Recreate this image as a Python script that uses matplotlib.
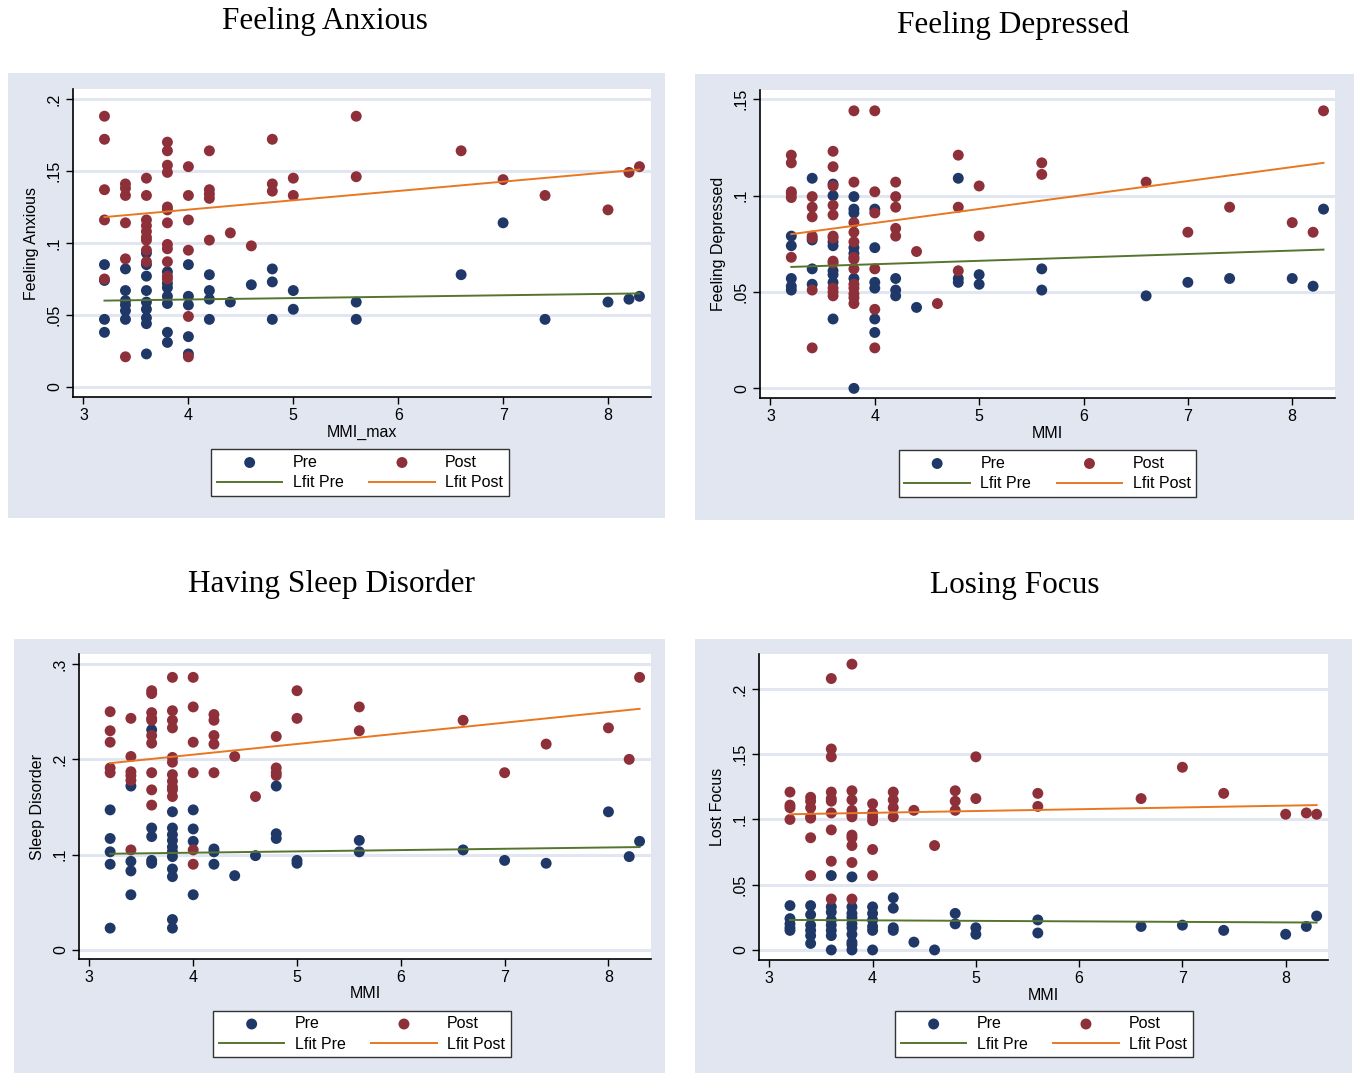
import numpy as np
import matplotlib
matplotlib.use("Agg")
import matplotlib.pyplot as plt
from matplotlib.patches import Rectangle

plt.rcParams['font.family'] = ['Liberation Sans', 'DejaVu Sans']

W, H = 1354, 1074

# ---- data (MMI value -> list of scores) ----
anx_pre = {3.2: [0.085, 0.074, 0.047, 0.038], 3.4: [0.082, 0.067, 0.060, 0.057, 0.053, 0.047],
           3.6: [0.093, 0.085, 0.077, 0.067, 0.059, 0.054, 0.048, 0.044, 0.023],
           3.8: [0.080, 0.072, 0.069, 0.063, 0.058, 0.038, 0.031],
           4.0: [0.085, 0.063, 0.057, 0.035, 0.023], 4.2: [0.078, 0.067, 0.061, 0.047],
           4.4: [0.059], 4.6: [0.071], 4.8: [0.082, 0.073, 0.047], 5.0: [0.067, 0.054],
           5.6: [0.059, 0.047], 6.6: [0.078], 7.0: [0.114], 7.4: [0.047], 8.0: [0.059],
           8.2: [0.061], 8.3: [0.063]}
anx_post = {3.2: [0.188, 0.172, 0.137, 0.116, 0.075], 3.4: [0.141, 0.138, 0.133, 0.114, 0.089, 0.021],
            3.6: [0.145, 0.133, 0.116, 0.112, 0.108, 0.104, 0.102, 0.095, 0.087],
            3.8: [0.170, 0.164, 0.154, 0.149, 0.125, 0.123, 0.114, 0.099, 0.096, 0.087, 0.077, 0.075],
            4.0: [0.153, 0.133, 0.116, 0.095, 0.049, 0.021], 4.2: [0.164, 0.137, 0.134, 0.131, 0.102],
            4.4: [0.107], 4.6: [0.098], 4.8: [0.172, 0.141, 0.136], 5.0: [0.145, 0.133],
            5.6: [0.188, 0.146], 6.6: [0.164], 7.0: [0.144], 7.4: [0.133], 8.0: [0.123],
            8.2: [0.149], 8.3: [0.153]}
anx_fit_pre = [0.060, 0.065]
anx_fit_post = [0.118, 0.151]

dep_pre = {3.2: [0.079, 0.074, 0.057, 0.053, 0.051], 3.4: [0.109, 0.077, 0.062, 0.054],
           3.6: [0.106, 0.100, 0.076, 0.074, 0.061, 0.059, 0.055, 0.036],
           3.8: [0.0995, 0.093, 0.091, 0.073, 0.070, 0.057, 0.000],
           4.0: [0.093, 0.073, 0.055, 0.052, 0.036, 0.029], 4.2: [0.057, 0.051, 0.048],
           4.4: [0.042], 4.8: [0.109, 0.057, 0.055], 5.0: [0.059, 0.054], 5.6: [0.062, 0.051],
           6.6: [0.048], 7.0: [0.055], 7.4: [0.057], 8.0: [0.057], 8.2: [0.053], 8.3: [0.093]}
dep_post = {3.2: [0.121, 0.117, 0.102, 0.101, 0.099, 0.068],
            3.4: [0.0995, 0.094, 0.089, 0.079, 0.078, 0.051, 0.021],
            3.6: [0.123, 0.115, 0.105, 0.095, 0.090, 0.079, 0.078, 0.066, 0.065, 0.052, 0.050, 0.048],
            3.8: [0.144, 0.107, 0.086, 0.081, 0.076, 0.068, 0.067, 0.062, 0.054, 0.052, 0.049, 0.047, 0.044],
            4.0: [0.144, 0.102, 0.091, 0.062, 0.041, 0.021], 4.2: [0.107, 0.0995, 0.094, 0.083, 0.079],
            4.4: [0.071], 4.6: [0.044], 4.8: [0.121, 0.094, 0.061], 5.0: [0.105, 0.079],
            5.6: [0.117, 0.111], 6.6: [0.107], 7.0: [0.081], 7.4: [0.094], 8.0: [0.086],
            8.2: [0.081], 8.3: [0.144]}
dep_fit_pre = [0.063, 0.072]
dep_fit_post = [0.080, 0.117]

slp_pre = {3.2: [0.147, 0.117, 0.103, 0.090, 0.023], 3.4: [0.172, 0.093, 0.083, 0.058],
           3.6: [0.231, 0.128, 0.119, 0.094, 0.091],
           3.8: [0.145, 0.128, 0.121, 0.115, 0.108, 0.103, 0.098, 0.085, 0.077, 0.032, 0.023],
           4.0: [0.147, 0.127, 0.114, 0.058], 4.2: [0.106, 0.103, 0.090], 4.4: [0.078],
           4.6: [0.099], 4.8: [0.172, 0.122, 0.117], 5.0: [0.094, 0.091], 5.6: [0.115, 0.103],
           6.6: [0.105], 7.0: [0.094], 7.4: [0.091], 8.0: [0.145], 8.2: [0.098], 8.3: [0.114]}
slp_post = {3.2: [0.250, 0.230, 0.218, 0.191, 0.186], 3.4: [0.243, 0.203, 0.187, 0.183, 0.178, 0.105],
            3.6: [0.272, 0.269, 0.249, 0.243, 0.241, 0.225, 0.217, 0.186, 0.168, 0.152],
            3.8: [0.286, 0.251, 0.241, 0.233, 0.202, 0.197, 0.184, 0.177, 0.171, 0.168, 0.161],
            4.0: [0.286, 0.255, 0.218, 0.186, 0.105, 0.090], 4.2: [0.247, 0.241, 0.225, 0.216, 0.186],
            4.4: [0.203], 4.6: [0.161], 4.8: [0.224, 0.191, 0.186, 0.183], 5.0: [0.272, 0.243],
            5.6: [0.255, 0.230], 6.6: [0.241], 7.0: [0.186], 7.4: [0.216], 8.0: [0.233],
            8.2: [0.200], 8.3: [0.286]}
slp_fit_pre = [0.101, 0.108]
slp_fit_post = [0.196, 0.253]

foc_pre = {3.2: [0.034, 0.024, 0.020, 0.017, 0.015], 3.4: [0.034, 0.027, 0.019, 0.015, 0.011, 0.005],
           3.6: [0.057, 0.033, 0.029, 0.023, 0.019, 0.015, 0.011, 0.000],
           3.8: [0.056, 0.033, 0.028, 0.025, 0.020, 0.017, 0.012, 0.006, 0.004, 0.000],
           4.0: [0.033, 0.028, 0.023, 0.018, 0.015, 0.000], 4.2: [0.040, 0.032, 0.017, 0.015],
           4.4: [0.006], 4.6: [0.000], 4.8: [0.028, 0.020], 5.0: [0.017, 0.012], 5.6: [0.023, 0.013],
           6.6: [0.018], 7.0: [0.019], 7.4: [0.015], 8.0: [0.012], 8.2: [0.018], 8.3: [0.026]}
foc_post = {3.2: [0.121, 0.111, 0.109, 0.100], 3.4: [0.117, 0.114, 0.109, 0.102, 0.101, 0.086, 0.057],
            3.6: [0.208, 0.154, 0.148, 0.121, 0.116, 0.114, 0.105, 0.092, 0.068, 0.039],
            3.8: [0.219, 0.122, 0.115, 0.107, 0.104, 0.102, 0.088, 0.086, 0.080, 0.067, 0.039],
            4.0: [0.112, 0.105, 0.102, 0.099, 0.077, 0.057], 4.2: [0.121, 0.115, 0.109, 0.102],
            4.4: [0.107], 4.6: [0.080], 4.8: [0.122, 0.114, 0.107], 5.0: [0.148, 0.116],
            5.6: [0.120, 0.110], 6.6: [0.116], 7.0: [0.140], 7.4: [0.120], 8.0: [0.104],
            8.2: [0.105], 8.3: [0.104]}
foc_fit_pre = [0.023, 0.021]
foc_fit_post = [0.104, 0.111]

fit_x = [3.2, 8.3]
xticks = [3, 4, 5, 6, 7, 8]

pre_color = '#1f3868'
post_color = '#8e3039'
lfit_pre_color = '#55752f'
lfit_post_color = '#e87722'
bg_color = '#e1e6f0'
grid_color = '#e1e6f0'


def fig_rect(l, t, r, b):
    return [l / W, 1 - b / H, (r - l) / W, (b - t) / H]


def flatten(d):
    xs, ys = [], []
    for k, vals in d.items():
        xs += [k] * len(vals)
        ys += vals
    return xs, ys


def panel(fig, title, title_xy, bg, axbox, leg, ylabel, xlabel, ylim, yticks, yticklabels,
          pre, post, fit_pre, fit_post):
    l, t, r, b = bg
    fig.patches.append(Rectangle((l / W, 1 - b / H), (r - l) / W, (b - t) / H,
                                 transform=fig.transFigure, facecolor=bg_color,
                                 edgecolor='none', zorder=-5))
    fig.text(title_xy[0] / W, 1 - title_xy[1] / H, title, ha='center', va='center',
             fontsize=22.5, family='Liberation Serif')
    ax = fig.add_axes(fig_rect(*axbox))
    ax.set_zorder(2)
    ax.set_facecolor('white')
    for y in yticks:
        ax.axhline(y, color=grid_color, lw=2.2, zorder=0)
    px, py = flatten(pre)
    qx, qy = flatten(post)
    h1 = ax.scatter(px, py, s=62, color=pre_color, edgecolors='none', zorder=3, label='Pre')
    h2 = ax.scatter(qx, qy, s=62, color=post_color, edgecolors='none', zorder=3, label='Post')
    h3, = ax.plot(fit_x, fit_pre, color=lfit_pre_color, lw=1.4, zorder=4, label='Lfit Pre')
    h4, = ax.plot(fit_x, fit_post, color=lfit_post_color, lw=1.4, zorder=4, label='Lfit Post')
    ax.set_xlim(2.9, 8.41)
    ax.set_ylim(*ylim)
    ax.set_xticks(xticks)
    ax.set_yticks(yticks)
    ax.set_yticklabels(yticklabels, rotation=90, va='center')
    ax.tick_params(labelsize=11.5, length=5, width=1, color='black', pad=3)
    for s in ['top', 'right']:
        ax.spines[s].set_visible(False)
    for s in ['left', 'bottom']:
        ax.spines[s].set_linewidth(1.2)
    ax.set_ylabel(ylabel, fontsize=11.5, labelpad=6)
    ax.set_xlabel(xlabel, fontsize=11.5, labelpad=1)
    ll, lt, lr, lb = leg
    lg = fig.legend([h1, h3, h2, h4], ['Pre', 'Lfit Pre', 'Post', 'Lfit Post'], ncol=2,
                    loc='center', bbox_to_anchor=((ll + lr) / 2 / W, 1 - (lt + lb) / 2 / H),
                    fontsize=11.5, frameon=True, fancybox=False, handlelength=4.1,
                    handletextpad=0.65, columnspacing=1.6, labelspacing=0.35,
                    borderpad=0.35, borderaxespad=0, scatterpoints=1, framealpha=1)
    lg.get_frame().set_edgecolor('#333333')
    lg.get_frame().set_facecolor('white')
    lg.get_frame().set_linewidth(1.0)
    lg.set_zorder(3)
    return ax


fig = plt.figure(figsize=(W / 100, H / 100), dpi=100)

panel(fig, 'Feeling Anxious', (325, 21), (8, 73, 665, 518), (73, 89, 651, 397),
      (212, 448, 508, 497), 'Feeling Anxious', 'MMI_max', (-0.0069, 0.2069),
      [0, 0.05, 0.1, 0.15, 0.2], ['0', '.05', '.1', '.15', '.2'],
      anx_pre, anx_post, anx_fit_pre, anx_fit_post)

panel(fig, 'Feeling Depressed', (1013, 25), (695, 74, 1354, 520), (760, 90, 1335, 398),
      (898, 449, 1197, 498), 'Feeling Depressed', 'MMI', (-0.005, 0.1548),
      [0, 0.05, 0.1, 0.15], ['0', '.05', '.1', '.15'],
      dep_pre, dep_post, dep_fit_pre, dep_fit_post)

panel(fig, 'Having Sleep Disorder', (332, 584), (14, 639, 665, 1073), (79, 654, 651, 959),
      (215, 1010, 509, 1058), 'Sleep Disorder', 'MMI', (-0.0094, 0.3105),
      [0, 0.1, 0.2, 0.3], ['0', '.1', '.2', '.3'],
      slp_pre, slp_post, slp_fit_pre, slp_fit_post)

panel(fig, 'Losing Focus', (1015, 585), (695, 639, 1352, 1073), (759, 654, 1328, 960),
      (896, 1010, 1192, 1058), 'Lost Focus', 'MMI', (-0.0077, 0.2268),
      [0, 0.05, 0.1, 0.15, 0.2], ['0', '.05', '.1', '.15', '.2'],
      foc_pre, foc_post, foc_fit_pre, foc_fit_post)

fig.savefig('out.png', dpi=100, facecolor='white')
